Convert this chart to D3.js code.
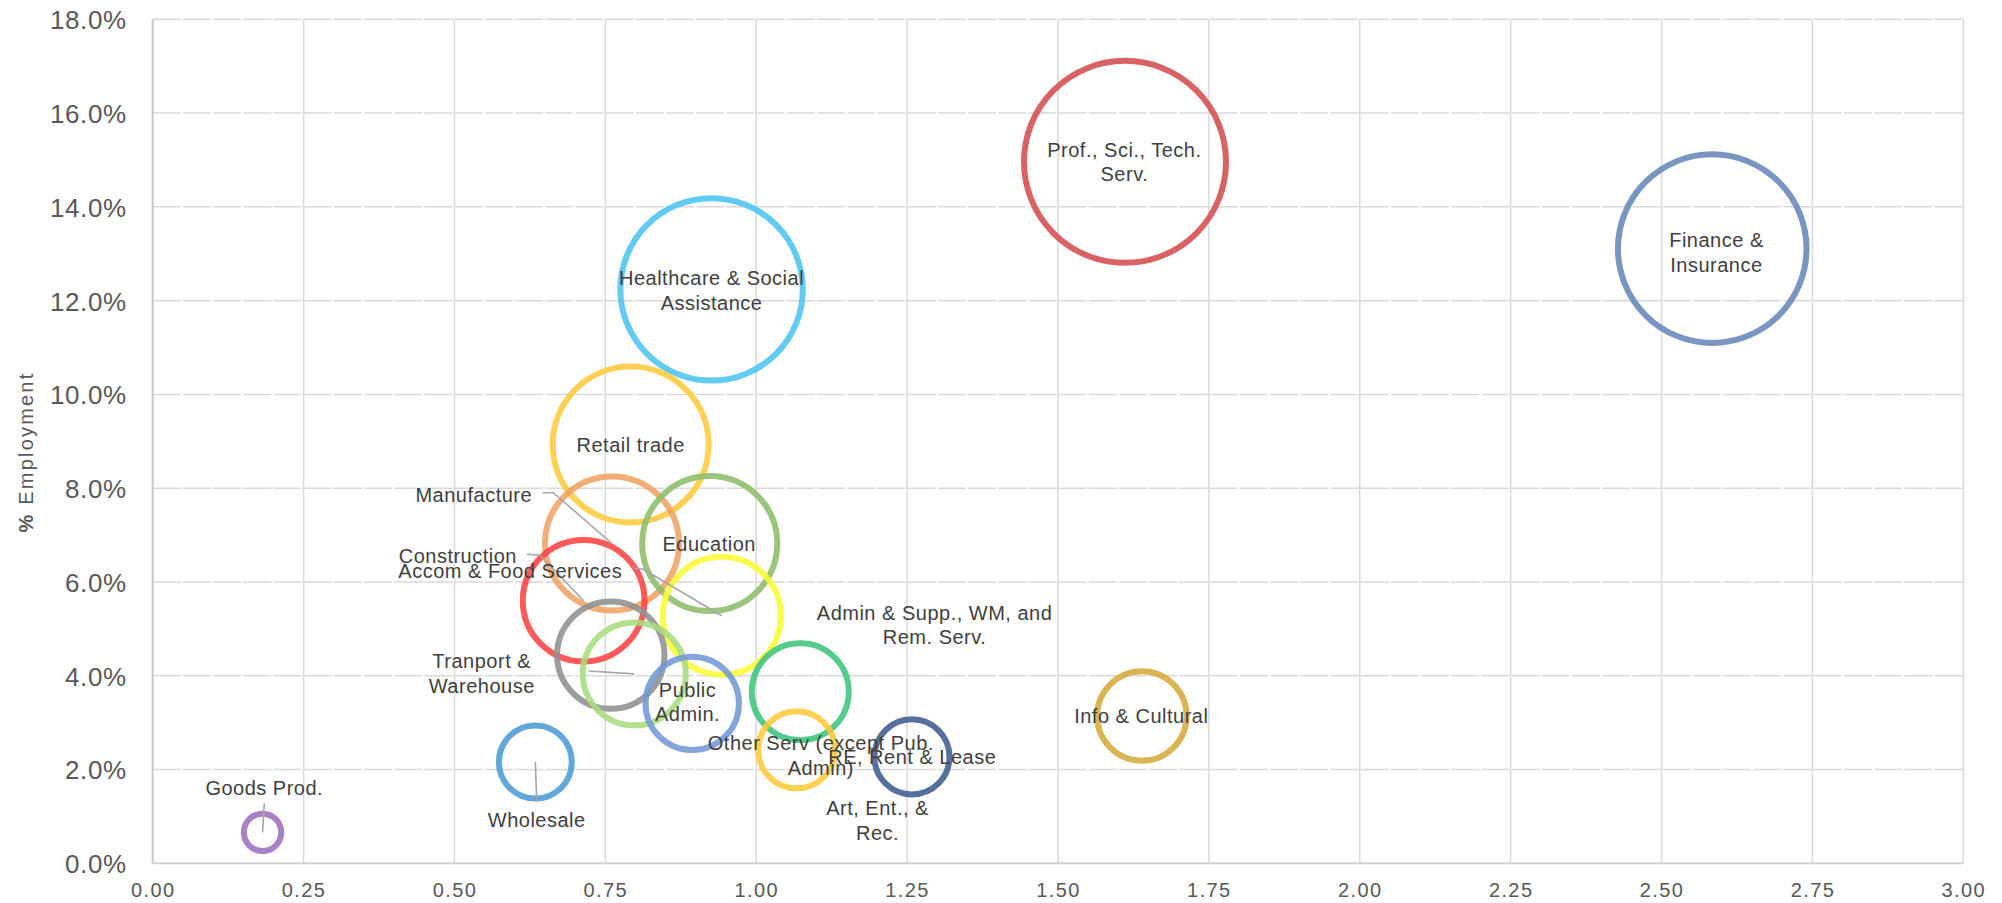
<!DOCTYPE html>
<html>
<head>
<meta charset="utf-8">
<script src="https://cdn.jsdelivr.net/npm/d3@7"></script>
<style>
  html, body { margin: 0; padding: 0; background: #ffffff; }
  svg { display: block; font-family: "Liberation Sans", Arial, sans-serif; }
</style>
</head>
<body>
<svg id="chart" width="2002" height="903"></svg>
<script>
// ---------------- DATA ----------------
const categories = [
  "Finance & Insurance", "Prof., Sci., Tech. Serv.", "Healthcare & Social Assistance",
  "Retail trade", "Manufacture", "Education", "Construction", "Accom & Food Services",
  "Art, Ent., & Rec.", "Tranport & Warehouse", "Admin & Supp., WM, and Rem. Serv.",
  "Public Admin.", "Info & Cultural", "Other Serv (except Pub. Admin)",
  "RE, Rent & Lease", "Wholesale", "Goods Prod."
];
// x: location quotient
const locationQuotient = [2.584, 1.611, 0.926, 0.792, 0.761, 0.923, 0.714, 0.943, 0.759, 0.798, 1.073, 0.894, 1.639, 1.067, 1.258, 0.634, 0.182];
// y: % employment
const employmentPct = [13.11, 14.96, 12.24, 8.93, 6.82, 6.82, 5.60, 5.28, 4.44, 4.04, 3.66, 3.41, 3.14, 2.42, 2.27, 2.16, 0.66];
// bubble size (relative employment)
const bubbleSize = [88.9, 102.0, 83.2, 60.8, 44.9, 45.6, 37.0, 34.8, 28.8, 26.5, 23.5, 21.8, 20.0, 14.8, 14.1, 13.3, 3.5];

const xTickValues = [0, 0.25, 0.5, 0.75, 1.0, 1.25, 1.5, 1.75, 2.0, 2.25, 2.5, 2.75, 3.0];
const yTickValues = [0, 2, 4, 6, 8, 10, 12, 14, 16, 18];
const yAxisTitle = "Employment";

// label text lines
const labelLines = [
  ["Finance &", "Insurance"], ["Prof., Sci., Tech.", "Serv."], ["Healthcare & Social", "Assistance"],
  ["Retail trade"], ["Manufacture"], ["Education"], ["Construction"], ["Accom & Food Services"],
  ["Art, Ent., &", "Rec."], ["Tranport &", "Warehouse"], ["Admin & Supp., WM, and", "Rem. Serv."],
  ["Public", "Admin."], ["Info & Cultural"], ["Other Serv (except Pub.", "Admin)"],
  ["RE, Rent & Lease"], ["Wholesale"], ["Goods Prod."]
];

// ---------------- LAYOUT (in data units) ----------------
// label anchor: [x, y] of centre / first baseline
const labelAnchor = [
  [2.591, 13.14], [1.610, 15.07], [0.926, 12.33], [0.792, 8.78], [0.532, 7.71],
  [0.922, 6.667], [0.5056, 6.398], [0.5925, 6.078], [1.201, 1.03], [0.5452, 4.159],
  [1.2955, 5.189], [0.8862, 3.553], [1.638, 2.986], [1.107, 2.416], [1.2585, 2.111],
  [0.6363, 0.768], [0.1849, 1.457]
];
// leader lines: index + start points (data units); end = bubble centre
const leaders = [
  { i: 4, pts: [[0.6462, 7.904], [0.6638, 7.904]] },
  { i: 6, pts: [[0.6197, 6.590], [0.6418, 6.569]] },
  { i: 7, pts: [[0.7964, 6.291], [0.8129, 6.270]] },
  { i: 9, pts: [[0.7218, 4.101]] },
  { i: 16, pts: [[0.1849, 1.280]] },
  { i: 15, pts: [[0.6363, 1.314]] }
];

const colors = [
  "#6786B8", "#D44C50", "#4BC4F1", "#FFC93A", "#F1A263", "#8DBD6A", "#FF4343", "#FAFA35",
  "#909090", "#A9DC7F", "#3EC47C", "#7398D6", "#D4AB3E", "#FFC93A", "#3E5B91", "#4B9BD5", "#9C6FBF"
];

// ---------------- CHART ----------------
const svg = d3.select("#chart");
const x = d3.scaleLinear().domain([0, 3]).range([152.7, 1963.3]);
const y = d3.scaleLinear().domain([0, 18]).range([863.3, 19.3]);
const r = d3.scaleSqrt().domain([0, 102]).range([0, 101]);

// gridlines
const grid = svg.append("g");
grid.selectAll("line.h").data(yTickValues.filter(d => d > 0)).join("line")
  .attr("x1", x(0)).attr("x2", x(3))
  .attr("y1", d => y(d)).attr("y2", d => y(d))
  .attr("stroke", "#d9d9d9").attr("stroke-width", 1.5)
  .attr("stroke-dasharray", "28,2.2");
grid.selectAll("line.v").data(xTickValues.filter(d => d > 0)).join("line")
  .attr("x1", d => x(d)).attr("x2", d => x(d))
  .attr("y1", y(0)).attr("y2", y(18))
  .attr("stroke", "#d9d9d9").attr("stroke-width", 1.5);
// axis lines
svg.append("line").attr("x1", x(0)).attr("x2", x(0)).attr("y1", y(0)).attr("y2", y(18))
  .attr("stroke", "#c8c8c8").attr("stroke-width", 2);
svg.append("line").attr("x1", x(0)).attr("x2", x(3)).attr("y1", y(0)).attr("y2", y(0))
  .attr("stroke", "#d2d2d2").attr("stroke-width", 2);

// axes (labels only)
const xAxis = svg.append("g").attr("transform", `translate(0,${y(0)})`)
  .call(d3.axisBottom(x).tickValues(xTickValues).tickFormat(d3.format(".2f")).tickSize(0).tickPadding(19.2));
xAxis.select(".domain").remove();
xAxis.selectAll("text").attr("font-size", 20).attr("fill", "#595959")
  .attr("font-family", "Liberation Sans, Arial, sans-serif").style("letter-spacing", "1.4px");

const yAxis = svg.append("g").attr("transform", `translate(${x(0)},0)`)
  .call(d3.axisLeft(y).tickValues(yTickValues).tickFormat(d => d.toFixed(1) + "%").tickSize(0).tickPadding(26));
yAxis.select(".domain").remove();
yAxis.selectAll("text").attr("font-size", 26).attr("fill", "#595959").attr("dy", "0.36em")
  .attr("font-family", "Liberation Sans, Arial, sans-serif").style("letter-spacing", "0.6px");

// y axis title
const yt = svg.append("text")
  .attr("transform", "translate(33,452) rotate(-90)")
  .attr("text-anchor", "middle").attr("font-size", 20).attr("fill", "#595959")
  .style("letter-spacing", "2.2px");
yt.append("tspan").attr("font-weight", "bold").text("%");
yt.append("tspan").text(" " + yAxisTitle);

// bubbles
const data = categories.map((c, i) => ({
  c, i, x: locationQuotient[i], y: employmentPct[i], s: bubbleSize[i], color: colors[i]
}));
svg.append("g").selectAll("circle").data(data).join("circle")
  .attr("cx", d => x(d.x)).attr("cy", d => y(d.y)).attr("r", d => r(d.s))
  .attr("fill", "none").attr("stroke", d => d.color)
  .attr("stroke-width", 6).attr("stroke-opacity", 0.88);

// leader lines
const line = d3.line();
svg.append("g").selectAll("path").data(leaders).join("path")
  .attr("d", l => line(l.pts.map(p => [x(p[0]), y(p[1])]).concat([[x(locationQuotient[l.i]), y(employmentPct[l.i])]])))
  .attr("fill", "none").attr("stroke", "#a6a6a6").attr("stroke-width", 1.6);

// labels
const lh = 24.5;
const lbl = svg.append("g").selectAll("text").data(data).join("text")
  .attr("x", d => x(labelAnchor[d.i][0])).attr("y", d => y(labelAnchor[d.i][1]))
  .attr("text-anchor", "middle").attr("font-size", 20).attr("fill", "#404040")
  .style("letter-spacing", "0.5px");
lbl.each(function (d) {
  const t = d3.select(this);
  labelLines[d.i].forEach((s, k) => {
    t.append("tspan").attr("x", x(labelAnchor[d.i][0])).attr("dy", k === 0 ? 0 : lh).text(s);
  });
});
</script>
</body>
</html>
